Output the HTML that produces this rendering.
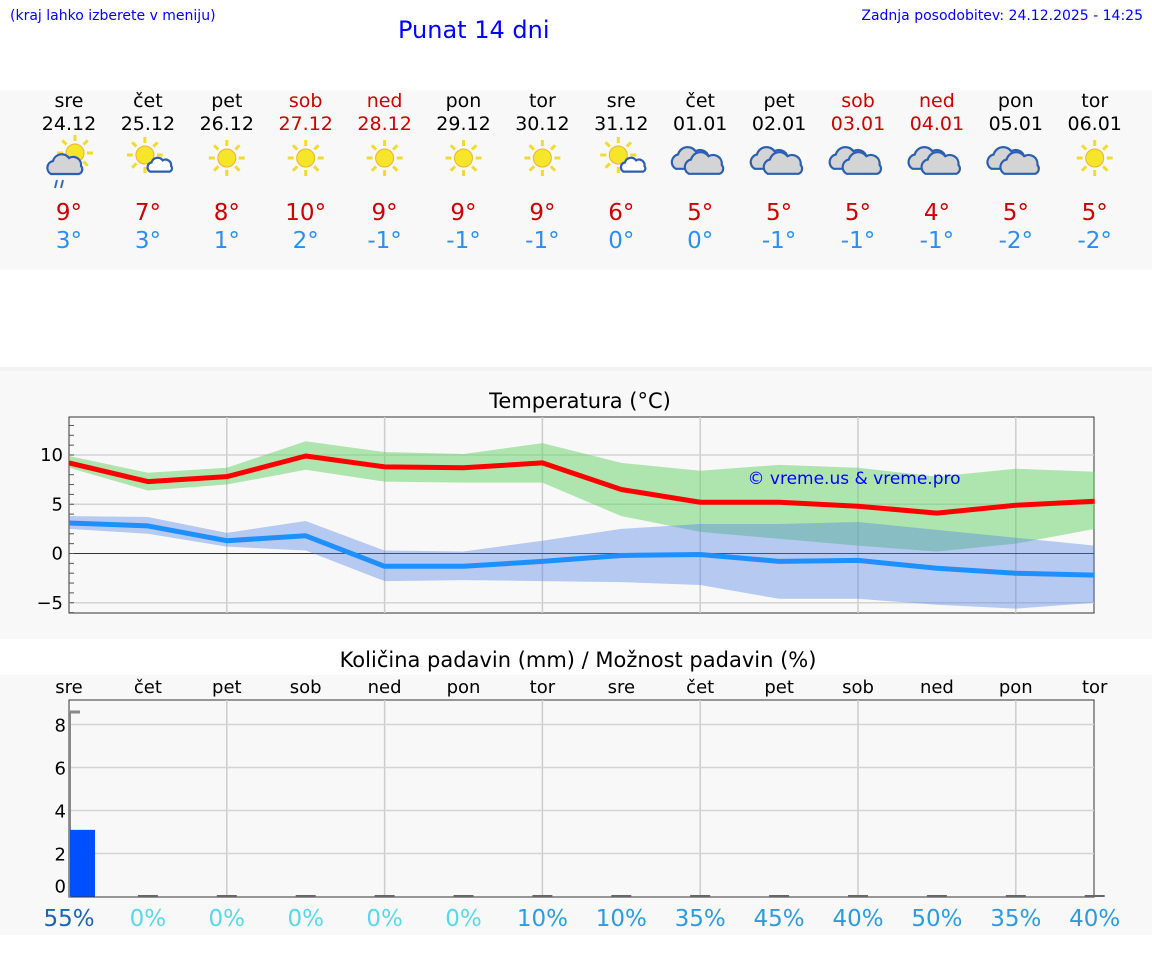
<!DOCTYPE html>
<html><head><meta charset="utf-8"><style>
body{margin:0;width:1152px;height:975px;background:#fff;font-family:"DejaVu Sans","Liberation Sans",sans-serif;position:relative;overflow:hidden}
.a{position:absolute}
</style></head><body>
<div class="a" style="left:10px;top:8px;font-size:14px;color:#00f">(kraj lahko izberete v meniju)</div>
<div class="a" style="left:398px;top:16px;font-size:24px;color:#00f">Punat 14 dni</div>
<div class="a" style="right:9px;top:8px;font-size:14px;color:#00f">Zadnja posodobitev: 24.12.2025 - 14:25</div>
<div class="a" style="left:0;top:90px;width:1152px;height:180px;background:#f8f8f8"></div>
<div class="a" style="left:0;top:367px;width:1152px;height:268px;background:#f8f8f8;border-top:4px solid #f2f2f2"></div>
<div class="a" style="left:0;top:675px;width:1152px;height:260px;background:#f8f8f8"></div>
<svg class="a" style="left:0;top:0" width="1152" height="975" id="svg"></svg>
<script>
const dayNames=["sre","čet","pet","sob","ned","pon","tor","sre","čet","pet","sob","ned","pon","tor"];
const dates=["24.12","25.12","26.12","27.12","28.12","29.12","30.12","31.12","01.01","02.01","03.01","04.01","05.01","06.01"];
const weekend=[0,0,0,1,1,0,0,0,0,0,1,1,0,0];
const icons=["rain","partly","sun","sun","sun","sun","sun","partly","cloud","cloud","cloud","cloud","cloud","sun"];
const tMaxLabel=[9,7,8,10,9,9,9,6,5,5,5,4,5,5];
const tMinLabel=[3,3,1,2,-1,-1,-1,0,0,-1,-1,-1,-2,-2];
const tMax=[9.2,7.3,7.8,9.9,8.8,8.7,9.2,6.5,5.2,5.2,4.8,4.1,4.9,5.3];
const tMaxHi=[9.9,8.2,8.7,11.4,10.3,10.1,11.2,9.2,8.4,9.0,8.7,7.8,8.6,8.3];
const tMaxLo=[8.7,6.4,7.0,8.5,7.3,7.2,7.2,3.8,2.2,1.5,0.8,0.2,1.0,2.5];
const tMin=[3.1,2.8,1.3,1.8,-1.3,-1.3,-0.8,-0.2,-0.1,-0.8,-0.7,-1.5,-2.0,-2.2];
const tMinHi=[3.8,3.7,2.1,3.3,0.3,0.2,1.3,2.5,3.0,3.0,3.2,2.4,1.6,0.8];
const tMinLo=[2.5,2.0,0.7,0.3,-2.8,-2.7,-2.8,-2.9,-3.2,-4.6,-4.6,-5.2,-5.6,-5.0];
const tTicks=[-5,0,5,10];
const precip=[3.1,0,0,0,0,0,0,0,0,0,0,0,0,0];
const pTicks=[0,2,4,6,8];
const chance=[55,0,0,0,0,0,10,10,35,45,40,50,35,40];

const NS="http://www.w3.org/2000/svg";
const svg=document.getElementById('svg');
function el(t,a,p){const e=document.createElementNS(NS,t);for(const k in a)e.setAttribute(k,a[k]);(p||svg).appendChild(e);return e;}
const dx=i=>69+i*78.9;
const ty=v=>553.5-v*9.85;
const py=v=>896.5-v*21.5;

for(let i=0;i<14;i++){
  const c=weekend[i]?'#c00':'#000';
  let t=el('text',{x:dx(i),y:107,'text-anchor':'middle','font-size':19,fill:c});t.textContent=dayNames[i];
  
  t=el('text',{x:dx(i),y:130,'text-anchor':'middle','font-size':19,fill:c});t.textContent=dates[i];
  
  t=el('text',{x:dx(i),y:220,'text-anchor':'middle','font-size':23,fill:'#c00'});t.textContent=tMaxLabel[i]+'°';
  
  t=el('text',{x:dx(i),y:248,'text-anchor':'middle','font-size':23,fill:'#2a8ff0'});t.textContent=(tMinLabel[i]<0?'-':'')+Math.abs(tMinLabel[i])+'°';
  
  const g=el('g',{});
  
  const cx=dx(i),cy=158;
  const sun=(x,y,r)=>{for(let k=0;k<8;k++){const a=k*Math.PI/4;el('line',{x1:x+Math.cos(a)*(r+3),y1:y+Math.sin(a)*(r+3),x2:x+Math.cos(a)*(r+9),y2:y+Math.sin(a)*(r+9),stroke:'#f0dc30','stroke-width':3},g);}el('circle',{cx:x,cy:y,r:r,fill:'#f5e62a',stroke:'#f0b030','stroke-width':1},g);};
  const cloud=(x,y,s,f)=>{el('path',{d:`M${x-14*s} ${y+8*s} a${7*s} ${7*s} 0 0 1 ${2*s} ${-13*s} a${9*s} ${9*s} 0 0 1 ${16*s} ${-3*s} a${8*s} ${8*s} 0 0 1 ${12*s} ${8*s} a${5*s} ${5*s} 0 0 1 ${-2*s} ${8*s} z`,fill:f,stroke:'#2d5fb0','stroke-width':2.2},g);};
  if(icons[i]=='sun')sun(cx,cy,9);
  if(icons[i]=='partly'){sun(cx-3,cy-3,9);cloud(cx+12,cy+8,0.7,'#fff');}
  if(icons[i]=='rain'){sun(cx+6,cy-5,9);cloud(cx-4,cy+8,1,'#d4d4d4');el('path',{d:`M${cx-12} ${cy+22}l-2 8M${cx-6} ${cy+22}l-2 8`,stroke:'#3a6cb0','stroke-width':2},g);}
  if(icons[i]=='cloud'){cloud(cx-9,cy+2,1.1,'#d4d4d4');cloud(cx+4,cy+7,1.1,'#d4d4d4');}
}

let t=el('text',{x:580,y:408,'text-anchor':'middle','font-size':21});t.textContent='Temperatura (°C)';

el('rect',{x:69,y:417,width:1025,height:196,fill:'#f8f8f8',stroke:'#333'});
for(let i=2;i<14;i+=2)el('line',{x1:dx(i),x2:dx(i),y1:417,y2:613,stroke:'#ccc','stroke-width':1.5});
for(const v of tTicks){
  el('line',{x1:69,x2:1094,y1:ty(v),y2:ty(v),stroke:v==0?'#333':'#d4d4d4','stroke-width':v==0?1:1.5});
  const l=el('text',{x:63,y:ty(v)+6,'text-anchor':'end','font-size':18});l.textContent=v<0?'−'+(-v):v;
  
}
for(let v=-6;v<=13;v++)el('line',{x1:69,x2:74,y1:ty(v),y2:ty(v),stroke:'#555'});
const band=(hi,lo,c,n)=>{let d='M'+hi.map((v,i)=>dx(i)+' '+ty(v)).join('L')+'L'+lo.map((v,i)=>dx(i)+' '+ty(v)).reverse().join('L')+'Z';const p=el('path',{d,fill:c});};
const line=(a,c,n)=>{const p=el('polyline',{points:a.map((v,i)=>dx(i)+','+ty(v)).join(' '),fill:'none',stroke:c,'stroke-width':5,'stroke-linejoin':'round'});};
band(tMaxHi,tMaxLo,'rgba(100,210,100,0.5)','max-temp-band');
band(tMinHi,tMinLo,'rgba(80,130,230,0.4)','min-temp-band');
line(tMax,'#f00','max-temp-line');
line(tMin,'#1e8fff','min-temp-line');
t=el('text',{x:854,y:484,'text-anchor':'middle','font-size':17,fill:'#00f'});t.textContent='© vreme.us & vreme.pro';


t=el('text',{x:578,y:667,'text-anchor':'middle','font-size':21});t.textContent='Količina padavin (mm) / Možnost padavin (%)';

el('rect',{x:69,y:700,width:1025,height:197,fill:'#f8f8f8',stroke:'#333'});
for(let i=2;i<14;i+=2)el('line',{x1:dx(i),x2:dx(i),y1:700,y2:897,stroke:'#ccc','stroke-width':1.5});
for(const v of pTicks){
  if(v>0)el('line',{x1:69,x2:1094,y1:py(v),y2:py(v),stroke:'#d4d4d4','stroke-width':1.5});
  const l=el('text',{x:66,y:py(v)+(v==0?-4:7),'text-anchor':'end','font-size':18});l.textContent=v;
  
}
el('line',{x1:70,x2:80,y1:712,y2:712,stroke:'#888','stroke-width':3});
el('line',{x1:70,x2:70,y1:712,y2:897,stroke:'#888','stroke-width':2});
for(let i=0;i<14;i++){
  const l=el('text',{x:dx(i),y:693,'text-anchor':'middle','font-size':18});l.textContent=dayNames[i];
  
  const x0=i==0?70:dx(i)-10;
  if(precip[i]>0){const b=el('rect',{x:x0,y:py(precip[i]),width:25,height:896.5-py(precip[i]),fill:'#0050ff'});}
  else el('line',{x1:x0,x2:x0+20,y1:896,y2:896,stroke:'#666','stroke-width':2});
  const c=chance[i]>50?'#1e64b4':chance[i]==0?'#5ad8e8':'#2d9be0';
  const p=el('text',{x:dx(i),y:926,'text-anchor':'middle','font-size':23,fill:c});p.textContent=chance[i]+'%';
  
}
</script>
</body></html>
